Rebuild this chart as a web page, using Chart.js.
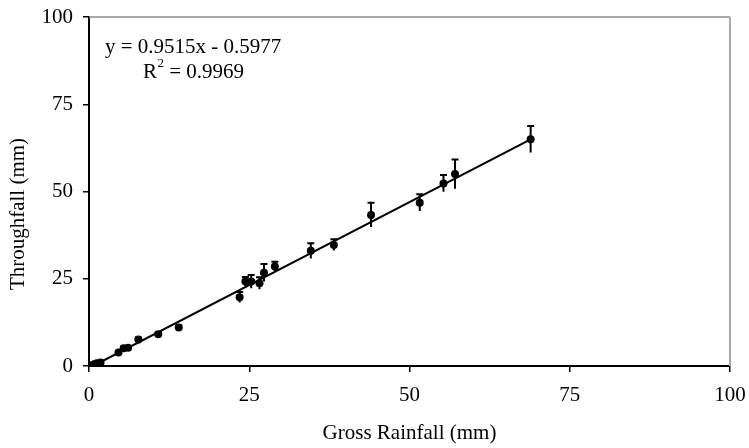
<!DOCTYPE html>
<html><head><meta charset="utf-8">
<script src="https://cdn.jsdelivr.net/npm/chart.js@4"></script>
<style>html,body{margin:0;padding:0;background:#fff}#wrap{width:749px;height:448px}</style>
</head><body><div id="wrap"><canvas id="c" width="749" height="448"></canvas></div>
<script>
// ---- data ----
const grossRainfall = [0.4, 0.8, 1.2, 1.8, 4.6, 5.4, 6.1, 7.7, 10.8, 14.0, 23.5, 24.4, 25.3, 26.6, 27.3, 29.0, 34.6, 38.2, 44.0, 51.6, 55.3, 57.1, 68.9];
const throughfall  = [0.2, 0.5, 0.8, 1.0, 3.9, 5.1, 5.2, 7.6, 9.1, 11.0, 19.7, 24.2, 24.2, 23.7, 26.7, 28.5, 33.0, 34.7, 43.3, 46.8, 52.3, 55.0, 65.0];
const throughfallErr = [0.2, 0.2, 0.2, 0.3, 0.4, 0.5, 0.5, 0.6, 0.6, 0.7, 1.5, 1.3, 1.9, 1.7, 2.5, 1.4, 2.2, 1.6, 3.5, 2.4, 2.4, 4.2, 3.8];
const xTicks = [0, 25, 50, 75, 100];
const yTicks = [0, 25, 50, 75, 100];
const slope = 0.9515;
const intercept = -0.5977;
const equationText = 'y = 0.9515x - 0.5977';
const r2Text = '0.9969';
const xTitle = 'Gross Rainfall (mm)';
const yTitle = 'Throughfall (mm)';

const FAMILY = "'Liberation Serif', 'Times New Roman', serif";
const font = { family: FAMILY, size: 21 };

const points = grossRainfall.map((x, i) => ({ x: x, y: throughfall[i] }));
const xMin = Math.min(...grossRainfall), xMax = Math.max(...grossRainfall);
const trend = [xMin, xMax].map(x => ({ x: x, y: slope * x + intercept }));

const errorBars = {
  id: 'errorBars',
  afterDatasetsDraw(chart) {
    const { ctx, scales: { x, y } } = chart;
    ctx.save();
    ctx.strokeStyle = '#000';
    ctx.lineWidth = 2;
    points.forEach((p, i) => {
      const e = throughfallErr[i];
      const px = x.getPixelForValue(p.x);
      const top = y.getPixelForValue(p.y + e);
      const bot = y.getPixelForValue(p.y - e);
      ctx.beginPath();
      ctx.moveTo(px, top); ctx.lineTo(px, bot);
      ctx.moveTo(px - 3.5, top); ctx.lineTo(px + 3.5, top);
      ctx.stroke();
    });
    ctx.restore();
  }
};

const frameAndText = {
  id: 'frameAndText',
  afterDraw(chart) {
    const { ctx, chartArea: a } = chart;
    ctx.save();
    ctx.strokeStyle = '#8c8c8c';
    ctx.lineWidth = 1.5;
    ctx.beginPath();
    ctx.moveTo(a.left, a.top); ctx.lineTo(a.right, a.top);
    ctx.stroke();
    ctx.strokeStyle = '#a8a8a8';
    ctx.lineWidth = 2;
    ctx.beginPath();
    ctx.moveTo(a.right, a.top); ctx.lineTo(a.right, a.bottom);
    ctx.stroke();

    ctx.fillStyle = '#000';
    ctx.font = '21px ' + FAMILY;
    ctx.textBaseline = 'middle';
    ctx.textAlign = 'left';
    ctx.fillText(equationText, a.left + 16, a.top + 30);
    let rx = a.left + 54;
    const ry = a.top + 55;
    ctx.fillText('R', rx, ry);
    rx += ctx.measureText('R').width;
    ctx.font = '13px ' + FAMILY;
    ctx.fillText('2', rx + 0.5, ry - 8);
    rx += ctx.measureText('2').width + 0.5;
    ctx.font = '21px ' + FAMILY;
    ctx.fillText(' = ' + r2Text, rx, ry);

    // y-axis title
    ctx.translate(18, 214);
    ctx.rotate(-Math.PI / 2);
    ctx.textAlign = 'center';
    ctx.fillText(yTitle, 0, 0);
    ctx.restore();
  }
};

new Chart(document.getElementById('c'), {
  type: 'scatter',
  data: {
    datasets: [
      { data: points, pointRadius: 4, pointHoverRadius: 4, backgroundColor: '#000', borderColor: '#000', borderWidth: 0, showLine: false, order: 0 },
      { type: 'line', data: trend, borderColor: '#000', borderWidth: 2, pointRadius: 0, fill: false, tension: 0, order: 1 }
    ]
  },
  options: {
    responsive: false,
    animation: false,
    devicePixelRatio: 1,
    layout: { padding: { top: 17, right: 19, left: 0, bottom: 0 } },
    plugins: { legend: { display: false }, tooltip: { enabled: false } },
    scales: {
      x: {
        type: 'linear', min: 0, max: 100,
        afterBuildTicks: s => { s.ticks = xTicks.map(v => ({ value: v })); },
        afterFit: s => { s.height = 82; s.paddingLeft = 0; s.paddingRight = 0; },
        grid: { drawOnChartArea: false, tickLength: 6, color: '#000', lineWidth: 1.5 },
        border: { color: '#000', width: 2 },
        ticks: { font: font, color: '#000', padding: 11, maxRotation: 0, autoSkip: false },
        title: { display: true, text: xTitle, font: font, color: '#000', padding: { top: 0, bottom: 2 } }
      },
      y: {
        type: 'linear', min: 0, max: 100,
        afterBuildTicks: s => { s.ticks = yTicks.map(v => ({ value: v })); },
        afterFit: s => { s.width = 89; s.paddingTop = 0; s.paddingBottom = 0; },
        grid: { drawOnChartArea: false, tickLength: 6, color: '#000', lineWidth: 1.5 },
        border: { color: '#000', width: 2 },
        ticks: { font: font, color: '#000', padding: 10, autoSkip: false },
        title: { display: false }
      }
    }
  },
  plugins: [errorBars, frameAndText]
});
</script>
</body></html>
